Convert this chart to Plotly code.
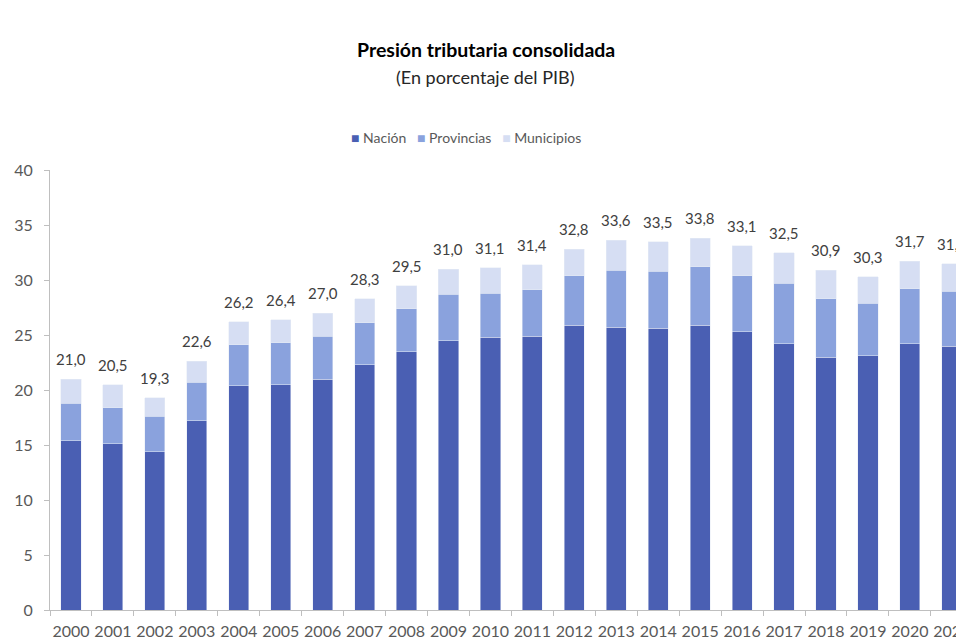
import plotly.graph_objects as go

years = [str(y) for y in range(2000, 2022)]
nacion = [15.4, 15.1, 14.4, 17.2, 20.4, 20.5, 21.0, 22.3, 23.5, 24.5, 24.8,
          24.9, 25.9, 25.7, 25.6, 25.9, 25.3, 24.2, 23.0, 23.1, 24.2, 24.0]
provincias = [3.4, 3.3, 3.2, 3.5, 3.7, 3.8, 3.9, 3.8, 3.9, 4.2, 4.0,
              4.2, 4.5, 5.2, 5.2, 5.3, 5.1, 5.5, 5.3, 4.8, 5.0, 5.0]
municipios = [2.2, 2.1, 1.7, 1.9, 2.1, 2.1, 2.1, 2.2, 2.1, 2.3, 2.3,
              2.3, 2.4, 2.7, 2.7, 2.6, 2.7, 2.8, 2.6, 2.4, 2.5, 2.5]
totales = [21.0, 20.5, 19.3, 22.6, 26.2, 26.4, 27.0, 28.3, 29.5, 31.0, 31.1,
           31.4, 32.8, 33.6, 33.5, 33.8, 33.1, 32.5, 30.9, 30.3, 31.7, 31.5]

col_nac = '#4a5fb3'
col_prov = '#8aa2dd'
col_mun = '#d6def3'
gris = '#595959'

fig = go.Figure()
fig.add_trace(go.Bar(x=years, y=nacion, name='Nación', marker_color=col_nac))
fig.add_trace(go.Bar(x=years, y=provincias, name='Provincias', marker_color=col_prov))
fig.add_trace(go.Bar(x=years, y=municipios, name='Municipios', marker_color=col_mun))

# etiquetas con el total arriba de cada barra (x por indice de categoria)
for i, tot in enumerate(totales):
    fig.add_annotation(x=i, y=tot, text=f'{tot:.1f}'.replace('.', ','),
                       showarrow=False, yshift=20,
                       font=dict(size=15, color='#404040'))

# titulo y subtitulo
fig.add_annotation(xref='paper', yref='paper', x=0.477, y=1.273,
                   xanchor='center', yanchor='middle',
                   text='<b>Presión tributaria consolidada</b>', showarrow=False,
                   font=dict(size=19.5, color='#000000'))
fig.add_annotation(xref='paper', yref='paper', x=0.477, y=1.211,
                   xanchor='center', yanchor='middle',
                   text='(En porcentaje del PIB)', showarrow=False,
                   font=dict(size=18, color='#262626'))

# leyenda
leyenda = (f'<span style="color:{col_nac}">■</span> Nación   '
           f'<span style="color:{col_prov}">■</span> Provincias   '
           f'<span style="color:{col_mun}">■</span> Municipios')
fig.add_annotation(xref='paper', yref='paper', x=0.455, y=1.075,
                   xanchor='center', yanchor='middle',
                   text=leyenda, showarrow=False,
                   font=dict(size=14, color=gris))

# la pagina tiene 8px de margen, por eso 956x634
fig.update_layout(
    width=956, height=634,
    barmode='stack', bargap=0.52,
    showlegend=False,
    plot_bgcolor='white', paper_bgcolor='white',
    font=dict(family='Lato', color=gris),
    margin=dict(l=42, r=0, t=162, b=32, autoexpand=False),
)
fig.update_xaxes(type='category', range=[-0.5, 21.29], automargin=False,
                 showline=True, linecolor='#bfbfbf', linewidth=1,
                 ticks='outside', tickson='boundaries', ticklen=5,
                 tickcolor='#bfbfbf', tickfont=dict(size=16, color=gris),
                 tickangle=0, ticklabelstandoff=7, showgrid=False)
fig.update_yaxes(range=[0, 40], dtick=5, automargin=False,
                 showline=True, linecolor='#bfbfbf', linewidth=1,
                 ticks='outside', ticklen=5, tickcolor='#bfbfbf',
                 tickfont=dict(size=16, color=gris), ticklabelstandoff=8,
                 showgrid=False, zeroline=False)

fig.write_html('out.html')
